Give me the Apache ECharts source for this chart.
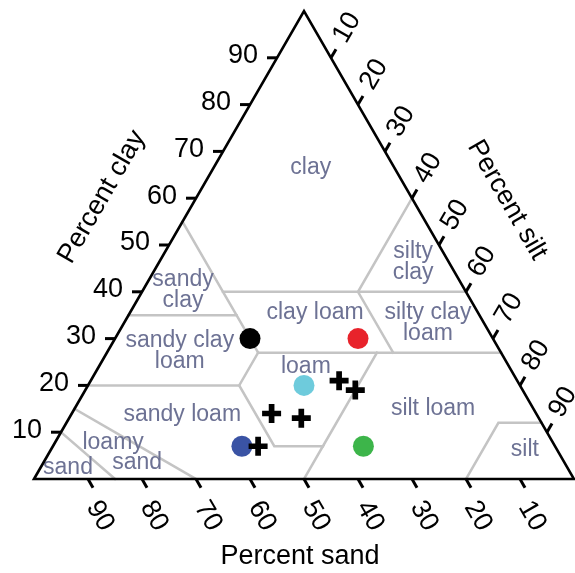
<!DOCTYPE html>
<html>
<head>
<meta charset="utf-8">
<script src="https://cdn.jsdelivr.net/npm/echarts@6/dist/echarts.min.js"></script>
<style>
  html, body { margin: 0; padding: 0; background: #fff; }
  #chart { width: 575px; height: 573px; }
</style>
</head>
<body>
<div id="chart"></div>
<script>
// Tick values on the three sides of the texture triangle
const clayTicks = [10, 20, 30, 40, 50, 60, 70, 80, 90];
const siltTicks = [10, 20, 30, 40, 50, 60, 70, 80, 90];
const sandTicks = [90, 80, 70, 60, 50, 40, 30, 20, 10];

// Triangle corners as [sand, silt, clay]
const triangleCorners = [[100, 0, 0], [0, 0, 100], [0, 100, 0]];

// USDA texture class boundaries, each vertex as [sand, silt, clay]
const classBoundaries = [
  [[45, 0, 55], [45, 15, 40], [45, 20, 35], [45, 28, 27]],
  [[65, 0, 35], [45, 20, 35]],
  [[45, 15, 40], [0, 60, 40]],
  [[0, 40, 60], [20, 40, 40], [20, 53, 27]],
  [[45, 28, 27], [0, 73, 27]],
  [[80, 0, 20], [52, 28, 20]],
  [[45, 28, 27], [52, 28, 20], [52, 41, 7], [43, 50, 7], [50, 50, 0]],
  [[43, 50, 7], [23, 50, 27]],
  [[85, 0, 15], [70, 30, 0]],
  [[90, 0, 10], [85, 15, 0]],
  [[0, 88, 12], [8, 80, 12], [20, 80, 0]]
];

// Texture class names and where they sit, as [sand, silt, clay]
const classNames = ['clay', 'silty\nclay', 'sandy\nclay', 'clay loam', 'silty clay\nloam',
  'sandy clay\nloam', 'loam', 'sandy loam', 'silt loam', 'loamy', 'sand', 'sand', 'silt'];
const classAnchors = [
  [15.5, 18, 66.5], [6.6, 47, 46.4], [52.2, 7.4, 40.4], [30.2, 34.3, 35.5], [10.4, 56.3, 33.3],
  [59.3, 13.3, 27.4], [37.6, 38.3, 24.1], [65.7, 20.6, 13.7], [18.6, 66.4, 15], [81.5, 10.8, 7.7],
  [79.2, 17.4, 3.4], [92.5, 5.1, 2.4], [6, 87.8, 6.2]
];

// Soil samples drawn as filled circles
const sampleSand = [45, 25, 40, 58, 35.5];
const sampleSilt = [25, 45, 40, 35, 57.5];
const sampleClay = [30, 30, 20, 7, 7];

// Soil samples drawn as crosses
const crossSand = [33, 31, 49, 44, 55];
const crossSilt = [46, 50, 37, 43, 38];
const crossClay = [21, 19, 14, 13, 7];

// Side titles
const axisTitles = ['Percent clay', 'Percent silt', 'Percent sand'];

// Styling
const sampleColors = ['#000000', '#e8232b', '#6ecbdc', '#3a53a4', '#3db54a'];
const FONT = 'Liberation Sans, Arial, sans-serif';
const classColor = '#6d7294';
const boundaryColor = '#c4c4c4';

// Ternary [sand, silt, clay] -> cartesian [x, y] in the grid's value space
function toXY(sand, silt, clay) {
  return [silt + clay / 2, clay];
}

function tickSeries(values, edge, dir, labelOffset, rotation, align) {
  return {
    type: 'custom',
    coordinateSystem: 'cartesian2d',
    silent: true,
    clip: false,
    z: 4,
    data: values.map(v => edge(v)),
    renderItem: function (params, api) {
      const p = api.coord([api.value(0), api.value(1)]);
      const len = 10;
      return {
        type: 'group',
        children: [
          {
            type: 'line',
            shape: { x1: p[0], y1: p[1], x2: p[0] + dir[0] * len, y2: p[1] + dir[1] * len },
            style: { stroke: '#000', lineWidth: 3 }
          },
          {
            type: 'text',
            x: p[0] + labelOffset[0],
            y: p[1] + labelOffset[1],
            rotation: rotation,
            style: {
              text: String(values[params.dataIndex]),
              x: 0, y: 0,
              fontSize: 27, fontFamily: FONT, fill: '#000',
              align: align, verticalAlign: 'middle',
              textAlign: align, textVerticalAlign: 'middle'
            }
          }
        ]
      };
    }
  };
}

const series = [];

// Class boundaries
classBoundaries.forEach(poly => {
  series.push({
    type: 'line',
    silent: true,
    clip: false,
    symbol: 'none',
    z: 1,
    lineStyle: { color: boundaryColor, width: 2.5, join: 'miter', cap: 'square' },
    data: poly.map(p => toXY(p[0], p[1], p[2]))
  });
});

// Triangle outline
series.push({
  type: 'custom',
  coordinateSystem: 'cartesian2d',
  silent: true,
  clip: false,
  z: 3,
  data: [0],
  renderItem: function (params, api) {
    const pts = triangleCorners.map(c => api.coord(toXY(c[0], c[1], c[2])));
    return {
      type: 'polygon',
      shape: { points: pts },
      style: { fill: 'none', stroke: '#000', lineWidth: 2.6, lineJoin: 'miter' }
    };
  }
});

// Class names
series.push({
  type: 'custom',
  coordinateSystem: 'cartesian2d',
  silent: true,
  clip: false,
  z: 2,
  data: classAnchors.map(a => toXY(a[0], a[1], a[2])),
  renderItem: function (params, api) {
    const p = api.coord([api.value(0), api.value(1)]);
    return {
      type: 'text',
      x: p[0], y: p[1],
      style: {
        text: classNames[params.dataIndex],
        x: 0, y: 0,
        fontSize: 23, fontFamily: FONT, fill: classColor, lineHeight: 21,
        align: 'center', verticalAlign: 'middle',
        textAlign: 'center', textVerticalAlign: 'middle'
      }
    };
  }
});

// Ticks and tick labels
series.push(tickSeries(clayTicks, v => toXY(100 - v, 0, v), [-1, 0], [-19, -2], 0, 'right'));
series.push(tickSeries(siltTicks, v => toXY(0, v, 100 - v), [0.5, -0.866], [16, -30], Math.PI / 3, 'center'));
series.push(tickSeries(sandTicks, v => toXY(v, 100 - v, 0), [0.5, 0.866], [12, 37], -Math.PI / 3, 'center'));

// Circle samples
series.push({
  type: 'scatter',
  silent: true,
  z: 6,
  symbol: 'circle',
  symbolSize: 21,
  data: sampleSand.map((s, i) => ({
    value: toXY(s, sampleSilt[i], sampleClay[i]),
    itemStyle: { color: sampleColors[i], opacity: 1 }
  }))
});

// Cross samples
series.push({
  type: 'scatter',
  silent: true,
  z: 6,
  symbol: 'path://M7,0H13V7H20V13H13V20H7V13H0V7H7Z',
  symbolSize: 19,
  itemStyle: { color: '#000', opacity: 1 },
  data: crossSand.map((s, i) => toXY(s, crossSilt[i], crossClay[i]))
});

const titleStyle = (text) => ({
  text: text,
  fontSize: 27, fontFamily: FONT, fill: '#000',
  align: 'center', verticalAlign: 'middle',
  textAlign: 'center', textVerticalAlign: 'middle'
});

const chart = echarts.init(document.getElementById('chart'));
chart.setOption({
  animation: false,
  backgroundColor: '#fff',
  grid: { left: 34, top: 11, width: 540, height: 468 },
  xAxis: { type: 'value', min: 0, max: 100, show: false },
  yAxis: { type: 'value', min: 0, max: 100, show: false },
  graphic: [
    { type: 'text', x: 102, y: 197, rotation: Math.PI / 3, style: titleStyle(axisTitles[0]) },
    { type: 'text', x: 507, y: 200, rotation: -Math.PI / 3, style: titleStyle(axisTitles[1]) },
    { type: 'text', x: 300, y: 557, rotation: 0, style: titleStyle(axisTitles[2]) }
  ],
  series: series
});
</script>
</body>
</html>
